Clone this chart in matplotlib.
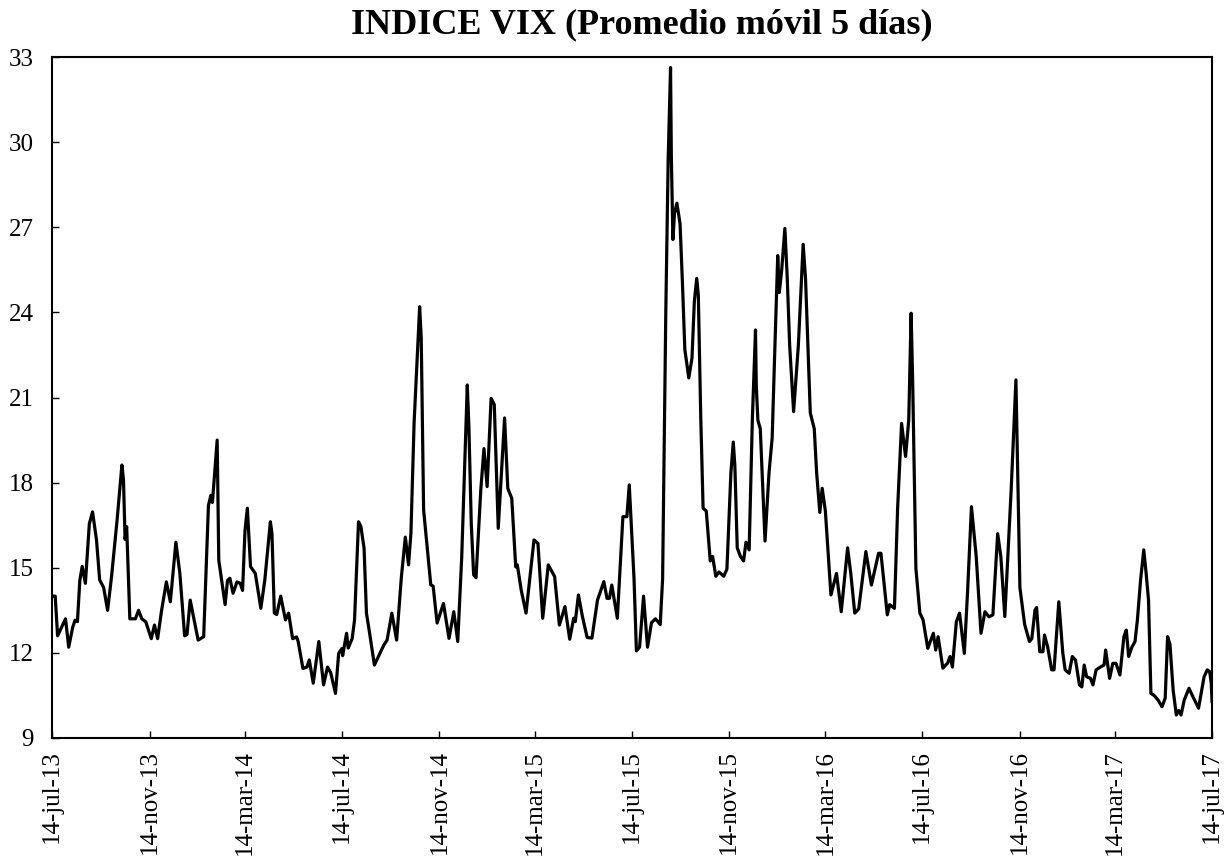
import matplotlib
matplotlib.use("Agg")
import matplotlib.pyplot as plt
import pandas as pd

titulo = "INDICE VIX (Promedio móvil 5 días)"

fechas = [
    "2013-07-14", "2013-07-18", "2013-07-21", "2013-07-26", "2013-07-31", "2013-08-04", "2013-08-09", "2013-08-12",
    "2013-08-15", "2013-08-18", "2013-08-21", "2013-08-25", "2013-08-30", "2013-09-03", "2013-09-08", "2013-09-12",
    "2013-09-17", "2013-09-22", "2013-09-27", "2013-10-04", "2013-10-06", "2013-10-10", "2013-10-12", "2013-10-14",
    "2013-10-16", "2013-10-20", "2013-10-27", "2013-10-31", "2013-11-04", "2013-11-09", "2013-11-16", "2013-11-20",
    "2013-11-24", "2013-11-29", "2013-12-05", "2013-12-10", "2013-12-17", "2013-12-22", "2013-12-28", "2013-12-31",
    "2014-01-04", "2014-01-09", "2014-01-14", "2014-01-21", "2014-01-27", "2014-01-30", "2014-02-01", "2014-02-07",
    "2014-02-09", "2014-02-17", "2014-02-20", "2014-02-23", "2014-02-27", "2014-03-04", "2014-03-08", "2014-03-11",
    "2014-03-14", "2014-03-17", "2014-03-21", "2014-03-27", "2014-04-03", "2014-04-08", "2014-04-15", "2014-04-17",
    "2014-04-20", "2014-04-23", "2014-04-28", "2014-05-04", "2014-05-08", "2014-05-13", "2014-05-18", "2014-05-20",
    "2014-05-26", "2014-05-31", "2014-06-03", "2014-06-08", "2014-06-15", "2014-06-21", "2014-06-26", "2014-06-30",
    "2014-07-06", "2014-07-10", "2014-07-14", "2014-07-15", "2014-07-20", "2014-07-22", "2014-07-27", "2014-07-30",
    "2014-08-04", "2014-08-07", "2014-08-11", "2014-08-14", "2014-08-18", "2014-08-24", "2014-08-31", "2014-09-05",
    "2014-09-09", "2014-09-15", "2014-09-21", "2014-09-27", "2014-10-02", "2014-10-06", "2014-10-09", "2014-10-13",
    "2014-10-20", "2014-10-22", "2014-10-25", "2014-11-03", "2014-11-06", "2014-11-11", "2014-11-19", "2014-11-26",
    "2014-12-02", "2014-12-07", "2014-12-12", "2014-12-19", "2014-12-21", "2014-12-24", "2014-12-27", "2014-12-30",
    "2015-01-05", "2015-01-09", "2015-01-13", "2015-01-18", "2015-01-22", "2015-01-27", "2015-02-01", "2015-02-04",
    "2015-02-08", "2015-02-13", "2015-02-18", "2015-02-20", "2015-02-25", "2015-03-03", "2015-03-13", "2015-03-18",
    "2015-03-24", "2015-03-31", "2015-04-08", "2015-04-14", "2015-04-21", "2015-04-27", "2015-05-02", "2015-05-04",
    "2015-05-08", "2015-05-13", "2015-05-19", "2015-05-25", "2015-06-01", "2015-06-09", "2015-06-13", "2015-06-16",
    "2015-06-19", "2015-06-26", "2015-07-03", "2015-07-08", "2015-07-11", "2015-07-17", "2015-07-20", "2015-07-24",
    "2015-07-29", "2015-08-03", "2015-08-08", "2015-08-13", "2015-08-19", "2015-08-22", "2015-08-26", "2015-08-29",
    "2015-09-01", "2015-09-02", "2015-09-04", "2015-09-06", "2015-09-09", "2015-09-13", "2015-09-16", "2015-09-19",
    "2015-09-24", "2015-09-28", "2015-10-01", "2015-10-04", "2015-10-06", "2015-10-09", "2015-10-12", "2015-10-16",
    "2015-10-21", "2015-10-24", "2015-10-28", "2015-11-01", "2015-11-07", "2015-11-11", "2015-11-16", "2015-11-19",
    "2015-11-21", "2015-11-24", "2015-11-28", "2015-12-02", "2015-12-05", "2015-12-09", "2015-12-13", "2015-12-17",
    "2015-12-18", "2015-12-20", "2015-12-23", "2015-12-29", "2016-01-03", "2016-01-07", "2016-01-10", "2016-01-14",
    "2016-01-16", "2016-01-19", "2016-01-23", "2016-01-26", "2016-01-29", "2016-02-03", "2016-02-09", "2016-02-15",
    "2016-02-18", "2016-02-24", "2016-02-29", "2016-03-03", "2016-03-07", "2016-03-10", "2016-03-14", "2016-03-21",
    "2016-03-28", "2016-04-03", "2016-04-11", "2016-04-15", "2016-04-20", "2016-04-25", "2016-05-04", "2016-05-11",
    "2016-05-20", "2016-05-23", "2016-05-31", "2016-06-03", "2016-06-09", "2016-06-13", "2016-06-18", "2016-06-23",
    "2016-06-27", "2016-06-30", "2016-07-02", "2016-07-06", "2016-07-11", "2016-07-15", "2016-07-21", "2016-07-28",
    "2016-07-31", "2016-08-03", "2016-08-09", "2016-08-15", "2016-08-18", "2016-08-21", "2016-08-26", "2016-08-30",
    "2016-09-05", "2016-09-09", "2016-09-14", "2016-09-20", "2016-09-26", "2016-10-01", "2016-10-06", "2016-10-11",
    "2016-10-17", "2016-10-21", "2016-10-26", "2016-11-03", "2016-11-09", "2016-11-14", "2016-11-20", "2016-11-26",
    "2016-11-29", "2016-12-03", "2016-12-05", "2016-12-09", "2016-12-13", "2016-12-15", "2016-12-19", "2016-12-24",
    "2016-12-27", "2017-01-02", "2017-01-07", "2017-01-10", "2017-01-15", "2017-01-19", "2017-01-23", "2017-01-28",
    "2017-01-31", "2017-02-03", "2017-02-06", "2017-02-11", "2017-02-14", "2017-02-18", "2017-02-24", "2017-02-28",
    "2017-03-02", "2017-03-07", "2017-03-11", "2017-03-15", "2017-03-20", "2017-03-25", "2017-03-28", "2017-03-31",
    "2017-04-04", "2017-04-08", "2017-04-11", "2017-04-15", "2017-04-19", "2017-04-22", "2017-04-25", "2017-04-28",
    "2017-05-02", "2017-05-07", "2017-05-12", "2017-05-16", "2017-05-19", "2017-05-22", "2017-05-26", "2017-05-30",
    "2017-06-02", "2017-06-05", "2017-06-09", "2017-06-15", "2017-06-20", "2017-06-27", "2017-07-04", "2017-07-08",
    "2017-07-11", "2017-07-13", "2017-07-14",
]

vix = [
    14.0, 14.0, 12.6, 12.9, 13.2, 12.2, 12.9, 13.15,
    13.1, 14.55, 15.05, 14.45, 16.55, 16.97, 15.98, 14.57,
    14.3, 13.5, 14.7, 16.7, 17.33, 18.62, 18.1, 16.0,
    16.45, 13.2, 13.2, 13.5, 13.2, 13.1, 12.5, 12.98,
    12.5, 13.5, 14.5, 13.8, 15.9, 14.8, 12.6, 12.65,
    13.86, 13.15, 12.45, 12.57, 17.2, 17.55, 17.3, 19.5,
    15.27, 13.7, 14.55, 14.63, 14.1, 14.5, 14.45, 14.2,
    16.3, 17.1, 15.04, 14.8, 13.57, 14.57, 16.62, 16.2,
    13.4, 13.35, 14.0, 13.16, 13.4, 12.5, 12.56, 12.4,
    11.45, 11.5, 11.75, 10.93, 12.4, 10.87, 11.5, 11.3,
    10.57, 11.98, 12.15, 11.9, 12.69, 12.17, 12.5, 13.16,
    16.62, 16.45, 15.69, 13.4, 12.69, 11.57, 11.98, 12.28,
    12.45, 13.4, 12.45, 14.68, 16.08, 15.1, 16.2, 20.1,
    24.2, 23.1, 17.04, 14.4, 14.35, 13.05, 13.74, 12.51,
    13.45, 12.4, 15.38, 21.44, 20.0, 16.57, 14.75, 14.65,
    17.74, 19.2, 17.86, 20.97, 20.75, 16.39, 18.8, 20.28,
    17.8, 17.45, 15.03, 15.1, 14.2, 13.4, 15.98, 15.86,
    13.22, 15.1, 14.69, 12.98, 13.63, 12.48, 13.22, 13.1,
    14.04, 13.28, 12.54, 12.52, 13.86, 14.51, 13.92, 13.92,
    14.39, 13.22, 16.8, 16.8, 17.92, 14.62, 12.07, 12.2,
    14.0, 12.2, 13.06, 13.2, 13.0, 14.6, 23.96, 29.4,
    32.63, 29.5, 26.57, 27.5, 27.85, 27.12, 25.02, 22.69,
    21.69, 22.39, 24.4, 25.2, 24.6, 20.36, 17.1, 17.0,
    15.24, 15.4, 14.7, 14.85, 14.7, 14.95, 18.34, 19.43,
    18.6, 15.7, 15.4, 15.24, 15.9, 15.63, 20.2, 23.38,
    21.4, 20.2, 19.9, 15.94, 18.34, 19.58, 22.39, 26.0,
    24.7, 25.5, 26.96, 25.2, 22.85, 20.5, 22.85, 26.4,
    25.2, 20.46, 19.9, 18.34, 16.95, 17.8, 17.0, 14.04,
    14.8, 13.45, 15.7, 14.8, 13.4, 13.55, 15.57, 14.39,
    15.51, 15.51, 13.34, 13.7, 13.57, 17.1, 20.09, 18.92,
    20.2, 23.97, 21.5, 14.98, 13.4, 13.17, 12.16, 12.69,
    12.1, 12.57, 11.46, 11.64, 11.87, 11.5, 13.1, 13.4,
    11.98, 14.1, 17.15, 15.39, 12.69, 13.45, 13.27, 13.34,
    16.2, 15.39, 13.28, 17.74, 21.62, 14.3, 13.0, 12.4,
    12.5, 13.5, 13.6, 12.04, 12.04, 12.63, 12.2, 11.4,
    11.4, 13.8, 12.0, 11.4, 11.28, 11.87, 11.75, 10.87,
    10.8, 11.57, 11.16, 11.1, 10.87, 11.4, 11.51, 11.57,
    12.1, 11.1, 11.63, 11.63, 11.22, 12.57, 12.8, 11.87,
    12.2, 12.4, 13.16, 14.57, 15.63, 14.8, 13.86, 10.57,
    10.5, 10.34, 10.1, 10.4, 12.57, 12.3, 10.69, 9.81,
    9.97, 9.81, 10.34, 10.75, 10.45, 10.05, 11.16, 11.4,
    11.34, 10.93, 10.28,
]

ticks_fechas = ["2013-07-14", "2013-11-14", "2014-03-14", "2014-07-14", "2014-11-14",
                "2015-03-14", "2015-07-14", "2015-11-14", "2016-03-14", "2016-07-14",
                "2016-11-14", "2017-03-14", "2017-07-14"]
ticks_etiquetas = ["14-jul-13", "14-nov-13", "14-mar-14", "14-jul-14", "14-nov-14",
                   "14-mar-15", "14-jul-15", "14-nov-15", "14-mar-16", "14-jul-16",
                   "14-nov-16", "14-mar-17", "14-jul-17"]
y_ticks = [9, 12, 15, 18, 21, 24, 27, 30, 33]

plt.rcParams['font.family'] = ['Liberation Serif', 'DejaVu Serif']

fig = plt.figure(figsize=(12.3, 8.59), dpi=100)
ax = fig.add_axes([0.0423, 0.1409, 0.9431, 0.7927])

x = pd.to_datetime(fechas)
ax.plot(x, vix, color='black', linewidth=2.3, solid_joinstyle='round')

ax.set_xlim(pd.Timestamp(ticks_fechas[0]), pd.Timestamp(ticks_fechas[-1]))
ax.set_ylim(9, 33)
ax.set_xticks(pd.to_datetime(ticks_fechas))
ax.set_xticklabels(ticks_etiquetas, rotation=90, fontsize=18)
ax.set_yticks(y_ticks)
ax.set_yticklabels([str(v) for v in y_ticks], fontsize=18)
ax.tick_params(axis='both', direction='in', length=5, width=1, color='black',
               top=False, right=False)
ax.tick_params(axis='y', pad=13)
ax.tick_params(axis='x', pad=9)
for s in ax.spines.values():
    s.set_linewidth(1.5)
    s.set_color('black')

fig.text(0.522, 0.971, titulo, ha='center', va='center', fontsize=26, fontweight='bold')

fig.savefig("out.png", dpi=100, facecolor='white')
